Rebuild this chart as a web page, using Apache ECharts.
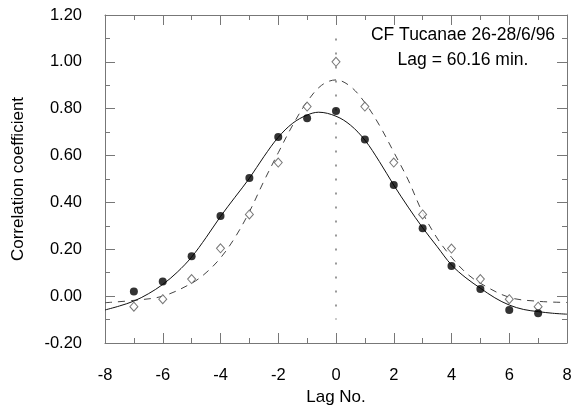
<!DOCTYPE html>
<html><head><meta charset="utf-8">
<script src="https://cdn.jsdelivr.net/npm/echarts@6/dist/echarts.min.js"></script>
<style>html,body{margin:0;padding:0;background:#fff}#c{width:571px;height:405px}</style>
</head><body><div id="c"></div>
<script>
// Observed correlation coefficients (filled circles) per lag
const lags = [-7,-6,-5,-4,-3,-2,-1,0,1,2,3,4,5,6,7];
const crossCorr = [0.02,0.062,0.170,0.342,0.504,0.679,0.759,0.790,0.669,0.474,0.290,0.129,0.031,-0.059,-0.073];
// Autocorrelation (open diamonds)
const autoCorr = [-0.045,-0.013,0.073,0.204,0.349,0.570,0.809,1.000,0.809,0.570,0.349,0.203,0.073,-0.013,-0.045];
// Fitted curve (solid)
const fitSolidX = [-8,-7.5,-7,-6.5,-6,-5.5,-5,-4.5,-4,-3.5,-3,-2.5,-2,-1.5,-1,-0.6,0,0.5,1,1.5,2,2.5,3,3.5,4,4.5,5,5.5,6,6.5,7,7.5,8];
const fitSolidY = [-0.059,-0.042,-0.021,0.010,0.050,0.102,0.167,0.250,0.340,0.422,0.503,0.595,0.678,0.738,0.773,0.785,0.768,0.730,0.666,0.575,0.474,0.380,0.292,0.212,0.133,0.078,0.034,-0.007,-0.038,-0.057,-0.066,-0.073,-0.077];
// Fitted curve (dashed)
const fitDashX = [-8,-7,-6,-5,-4.5,-4,-3.5,-3,-2.5,-2,-1.5,-1,-0.5,0,0.5,1,1.5,2,2.5,3,3.5,4,4.5,5,6,7,8];
const fitDashY = [-0.028,-0.018,0.000,0.055,0.100,0.163,0.250,0.360,0.490,0.612,0.730,0.830,0.900,0.923,0.895,0.826,0.730,0.615,0.496,0.356,0.248,0.166,0.100,0.055,-0.005,-0.022,-0.027];
// Zero-lag reference line
const zeroLineX = [0, 0];
const zeroLineY = [1.1, -0.1];
const xTickMin = -8, xTickMax = 8, xTickStep = 2;
const yTickMin = -0.2, yTickMax = 1.2, yTickStep = 0.2;
const annotation = ['CF Tucanae 26-28/6/96', 'Lag = 60.16 min.'];
const xTitle = 'Lag No.';
const yTitle = 'Correlation coefficient';

const zip = (a, b) => a.map((v, i) => [v, b[i]]);
const FONT = '"Liberation Sans", Arial, Helvetica, sans-serif';
const axisCol = '#777';

function xAx(pos, show) {
  return {
    type: 'value', position: pos, min: xTickMin, max: xTickMax, interval: xTickStep,
    axisLine: { show: true, onZero: false, lineStyle: { color: axisCol, width: 1 } },
    axisTick: { show: true, inside: true, length: 10, lineStyle: { color: axisCol } },
    minorTick: { show: true, splitNumber: 2, length: 5, lineStyle: { color: axisCol } },
    splitLine: { show: false }, minorSplitLine: { show: false },
    axisLabel: { show: show, margin: 24, fontSize: 16.5, color: '#000', fontFamily: FONT, showMinLabel: true, showMaxLabel: true },
    name: show ? xTitle : '', nameLocation: 'middle', nameGap: 45,
    nameTextStyle: { fontSize: 17, color: '#000', fontFamily: FONT }
  };
}
function yAx(pos, show) {
  return {
    type: 'value', position: pos, min: yTickMin, max: yTickMax, interval: yTickStep,
    axisLine: { show: true, onZero: false, lineStyle: { color: axisCol, width: 1 } },
    axisTick: { show: true, inside: true, length: 10, lineStyle: { color: axisCol } },
    minorTick: { show: true, splitNumber: 2, length: 5, lineStyle: { color: axisCol } },
    splitLine: { show: false }, minorSplitLine: { show: false },
    axisLabel: { show: show, margin: 23, fontSize: 16.5, color: '#000', fontFamily: FONT, showMinLabel: true, showMaxLabel: true,
      formatter: v => v.toFixed(2) },
    name: show ? yTitle : '', nameLocation: 'middle', nameGap: 78, nameRotate: 90,
    nameTextStyle: { fontSize: 17, color: '#000', fontFamily: FONT }
  };
}

const chart = echarts.init(document.getElementById('c'), null, { renderer: 'canvas' });
chart.setOption({
  animation: false,
  backgroundColor: '#fff',
  grid: { left: 105, right: 4, top: 15, bottom: 62, containLabel: false, outerBoundsMode: 'none' },
  xAxis: [xAx('bottom', true), xAx('top', false)],
  yAxis: [yAx('left', true), yAx('right', false)],
  graphic: [
    { type: 'text', x: 463, y: 35.5, z: 10,
      style: { text: annotation[0], fontSize: 17.5, fontFamily: FONT, fill: '#000', align: 'center', verticalAlign: 'middle' } },
    { type: 'text', x: 463, y: 60.5, z: 10,
      style: { text: annotation[1], fontSize: 17.5, fontFamily: FONT, fill: '#000', align: 'center', verticalAlign: 'middle' } }
  ],
  series: [
    { type: 'line', data: zip(zeroLineX, zeroLineY), showSymbol: false, silent: true, z: 1,
      lineStyle: { color: '#555', width: 1.2, type: [2, 12] } },
    { type: 'line', data: zip(fitDashX, fitDashY), showSymbol: false, smooth: 0.35, z: 2,
      lineStyle: { color: '#444', width: 1, type: [7, 6] } },
    { type: 'line', data: zip(fitSolidX, fitSolidY), showSymbol: false, smooth: 0.35, z: 2,
      lineStyle: { color: '#111', width: 1 } },
    { type: 'scatter', data: zip(lags, autoCorr), symbol: 'diamond', symbolSize: [8, 9], z: 3,
      itemStyle: { color: '#fff', borderColor: '#555', borderWidth: 1 } },
    { type: 'scatter', data: zip(lags, crossCorr), symbol: 'circle', symbolSize: 8, z: 4,
      itemStyle: { color: '#000' } }
  ]
});
</script></body></html>
